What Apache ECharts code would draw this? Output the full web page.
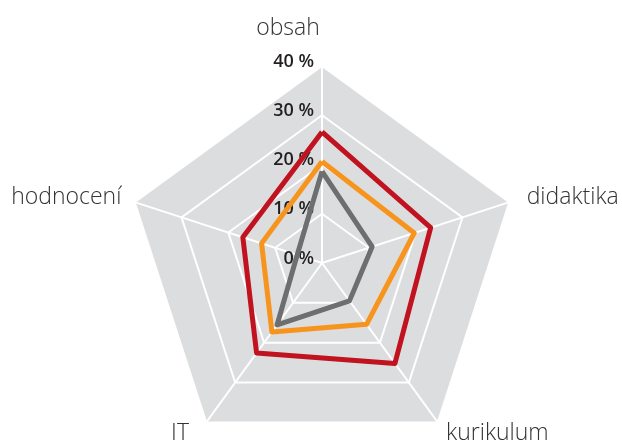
<!DOCTYPE html>
<html lang="cs">
<head>
    <meta charset="UTF-8">
    <title>Radar</title>
    <script src="https://cdn.jsdelivr.net/npm/echarts@6/dist/echarts.min.js"></script>
    <style>
        html, body { margin: 0; padding: 0; background: #fff; }
        #chart { width: 622px; height: 446px; }
    </style>
</head>
<body>
<div id="chart"></div>
<script>
    // osy grafu (v poradi, jak je echarts kresli - proti smeru hodin)
    var categories = ['obsah', 'hodnocení', 'IT', 'kurikulum', 'didaktika'];
    var maxValue = 40;
    var tickLabels = ['0 %', '10 %', '20 %', '30 %', '40 %'];

    // hodnoty v procentech, ve stejnem poradi jako categories
    var redValues = [26.6, 16.9, 22.6, 25.2, 23.2];
    var orangeValues = [20.6, 12.9, 17.3, 15.4, 19.7];
    var greyValues = [18.6, 5.3, 15.5, 9.5, 10.7];

    var chart = echarts.init(document.getElementById('chart'));

    var indicators = categories.map(function (c, i) {
        var ind = { name: c, min: 0, max: maxValue };
        if (i === 0) {
            ind.axisLabel = { show: true };
        }
        return ind;
    });

    function line(name, values, color) {
        return {
            name: name,
            value: values,
            symbol: 'none',
            lineStyle: { color: color, width: 5 },
            itemStyle: { color: color }
        };
    }

    var nameFont = {
        fontFamily: 'Open Sans',
        fontWeight: 300,
        fontSize: 23,
        color: '#333333'
    };

    var option = {
        animation: false,
        radar: {
            center: [322, 263],
            radius: 197,
            startAngle: 90,
            shape: 'polygon',
            splitNumber: 4,
            indicator: indicators,
            axisName: {
                color: '#333333',
                fontFamily: 'Open Sans',
                fontWeight: 300,
                fontSize: 23,
                formatter: function (name) {
                    if (name === 'obsah') return '{top|' + name + '}';
                    if (name === 'IT') return '{it|' + name + '}';
                    if (name === 'didaktika') return '{di|' + name + '}';
                    return '{n|' + name + '}';
                },
                rich: {
                    n: nameFont,
                    top: Object.assign({ padding: [0, 68, 12, 0] }, nameFont),
                    it: Object.assign({ padding: [0, 9, 0, 0] }, nameFont),
                    di: Object.assign({ padding: [0, 0, 0, 4] }, nameFont)
                }
            },
            nameGap: 14,
            axisLine: { lineStyle: { color: '#ffffff', width: 2 } },
            splitLine: { lineStyle: { color: '#ffffff', width: 2 } },
            splitArea: { areaStyle: { color: ['#dcdddf'] } },
            axisLabel: {
                show: false,
                formatter: function (v) {
                    return '{t|' + tickLabels[Math.round(v / 10)] + '}';
                },
                rich: {
                    t: {
                        color: '#231f20',
                        fontFamily: 'Open Sans',
                        fontWeight: 600,
                        fontSize: 18,
                        padding: [0, 0, 9, 0]
                    }
                }
            }
        },
        series: [{
            type: 'radar',
            data: [
                line('šedá', greyValues, '#6d6e70'),
                line('oranžová', orangeValues, '#f7941d'),
                line('červená', redValues, '#c1121f')
            ]
        }]
    };

    chart.setOption(option);
</script>
</body>
</html>
